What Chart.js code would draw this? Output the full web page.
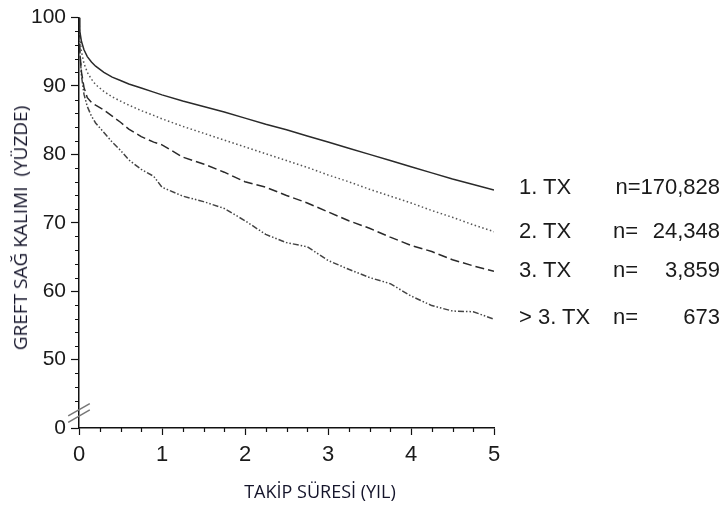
<!DOCTYPE html>
<html>
<head>
<meta charset="utf-8">
<script src="https://cdn.jsdelivr.net/npm/chart.js@4"></script>
<style>
  body { margin: 0; background: #fff; }
  #wrap { position: relative; width: 721px; height: 506px; }
  .lg { position: absolute; font-family: "Liberation Sans", Arial, sans-serif; font-size: 22px; color: #1a1a1a; line-height: 26px; white-space: pre; }
  .ttl { position: absolute; font-family: "Open Sans", Lato, sans-serif; color: #14142a; white-space: pre; }
</style>
</head>
<body>
<div id="wrap">
  <canvas id="c" width="721" height="506"></canvas>
  <div class="lg" style="left:519px;top:174px">1. TX</div>
  <div class="lg" style="right:1px;top:174px">n=170,828</div>
  <div class="lg" style="left:519px;top:218px">2. TX</div>
  <div class="lg" style="left:613px;top:218px">n=</div>
  <div class="lg" style="right:1px;top:218px">24,348</div>
  <div class="lg" style="left:519px;top:257px">3. TX</div>
  <div class="lg" style="left:613px;top:257px">n=</div>
  <div class="lg" style="right:1px;top:257px">3,859</div>
  <div class="lg" style="left:519px;top:304px">&gt; 3. TX</div>
  <div class="lg" style="left:613px;top:304px">n=</div>
  <div class="lg" style="right:1px;top:304px">673</div>
  <div class="ttl" style="left:320px;top:491px;font-size:18px;transform:translate(-50%,-50%)">TAKİP SÜRESİ (YIL)</div>
  <div class="ttl" style="left:20px;top:228px;font-size:19px;transform:translate(-50%,-50%) rotate(-90deg)">GREFT SAĞ KALIMI  (YÜZDE)</div>
</div>
<script>
// takip süresi (yıl)
const years = [0, 0.01, 0.03, 0.06, 0.1, 0.15, 0.2, 0.3, 0.4, 0.5, 0.6, 0.75, 0.9, 1,
  1.25, 1.5, 1.75, 2, 2.25, 2.5, 2.75, 3, 3.25, 3.5, 3.75, 4, 4.25, 4.5, 4.75, 5];

const tx1 = [100, 98, 96.5, 95.3, 94.3, 93.5, 92.9, 92, 91.3, 90.8, 90.3, 89.7, 89.1, 88.7,
  87.8, 87, 86.2, 85.3, 84.4, 83.6, 82.7, 81.8, 80.9, 80, 79.1, 78.2, 77.3, 76.4, 75.6, 74.8];
const tx2 = [100, 97, 95, 93.3, 92, 91, 90.2, 89.2, 88.4, 87.8, 87.2, 86.4, 85.7, 85.2,
  84.1, 83.1, 82.1, 81.1, 80.1, 79.1, 78.1, 77, 76, 74.9, 73.9, 72.9, 71.8, 70.8, 69.7, 68.7];
const tx3 = [100, 95, 92, 89.8, 88.3, 87.6, 87.2, 86.5, 85.6, 84.7, 83.7, 82.6, 81.8, 81.4,
  79.6, 78.6, 77.4, 76, 75.2, 74, 72.9, 71.6, 70.3, 69.2, 67.9, 66.7, 65.8, 64.6, 63.7, 62.9];
const tx4 = [100, 95, 91.5, 88.8, 87, 85.6, 84.6, 83.2, 81.8, 80.6, 79.2, 77.8, 76.8, 75.2,
  73.9, 73.1, 72.1, 70.3, 68.3, 67.1, 66.5, 64.5, 63.2, 62, 61.1, 59.3, 57.9, 57.1, 57, 55.9];

const yTicks = [40, 50, 60, 70, 80, 90, 100];
const yTickLabels = ['0', '50', '60', '70', '80', '90', '100'];
const xTicks = [0, 1, 2, 3, 4, 5];

function pts(vals) {
  return years.map((x, i) => ({ x: x, y: vals[i] }));
}

// kucuk tick isaretleri ve eksen kirigi
const extras = {
  id: 'extras',
  afterDraw(chart) {
    const ctx = chart.ctx;
    const xs = chart.scales.x, ys = chart.scales.y;
    const left = chart.chartArea.left, bottom = chart.chartArea.bottom;
    ctx.save();
    ctx.strokeStyle = '#111';
    ctx.lineWidth = 1.2;
    ctx.beginPath();
    for (let v = 44; v < 100; v += 2) {
      if (v % 10 === 0) continue;
      const py = Math.round(ys.getPixelForValue(v)) + 0.5;
      ctx.moveTo(left - 4, py);
      ctx.lineTo(left, py);
    }
    for (let v = 0.25; v < 5; v += 0.25) {
      if (Math.abs(v - Math.round(v)) < 0.01) continue;
      const px = Math.round(xs.getPixelForValue(v)) + 0.5;
      ctx.moveTo(px, bottom);
      ctx.lineTo(px, bottom + 4);
    }
    ctx.stroke();

    const cy = ys.getPixelForValue(42.2);
    ctx.strokeStyle = '#777';
    ctx.lineWidth = 1.5;
    ctx.beginPath();
    [-3.2, 3.2].forEach(o => {
      ctx.moveTo(left - 10.8, cy + o + 6.2);
      ctx.lineTo(left + 10.8, cy + o - 6.2);
    });
    ctx.stroke();
    ctx.restore();
  }
};

new Chart(document.getElementById('c'), {
  type: 'line',
  data: {
    datasets: [
      { label: '1. TX', data: pts(tx1), borderColor: '#2a2a2a', borderWidth: 1.5 },
      { label: '2. TX', data: pts(tx2), borderColor: '#555', borderWidth: 1.5, borderDash: [1.5, 2.5] },
      { label: '3. TX', data: pts(tx3), borderColor: '#2a2a2a', borderWidth: 1.5, borderDash: [9, 4] },
      { label: '> 3. TX', data: pts(tx4), borderColor: '#444', borderWidth: 1.5, borderDash: [6, 2, 1.5, 2, 1.5, 2] }
    ]
  },
  options: {
    responsive: false,
    animation: false,
    layout: { padding: { top: 14, right: 227, left: 0, bottom: 0 } },
    elements: { point: { radius: 0 }, line: { tension: 0 } },
    plugins: { legend: { display: false }, tooltip: { enabled: false } },
    scales: {
      x: {
        type: 'linear', min: 0, max: 5,
        afterBuildTicks(s) { s.ticks = xTicks.map(v => ({ value: v })); },
        afterFit(s) { s.height = 78; },
        grid: { drawOnChartArea: false, tickLength: 7, tickColor: '#111', tickWidth: 1.2 },
        border: { color: '#111', width: 1.5 },
        ticks: { color: '#1a1a1a', padding: 7, font: { family: 'Liberation Sans', size: 22 } }
      },
      y: {
        min: 40, max: 100,
        afterBuildTicks(s) { s.ticks = yTicks.map(v => ({ value: v })); },
        afterFit(s) { s.width = 79; },
        grid: { drawOnChartArea: false, tickLength: 8, tickColor: '#111', tickWidth: 1.2 },
        border: { color: '#111', width: 1.5 },
        ticks: {
          color: '#1a1a1a', padding: 5, font: { family: 'Liberation Sans', size: 21 },
          callback: v => yTickLabels[yTicks.indexOf(v)]
        }
      }
    }
  },
  plugins: [extras]
});
</script>
</body>
</html>
